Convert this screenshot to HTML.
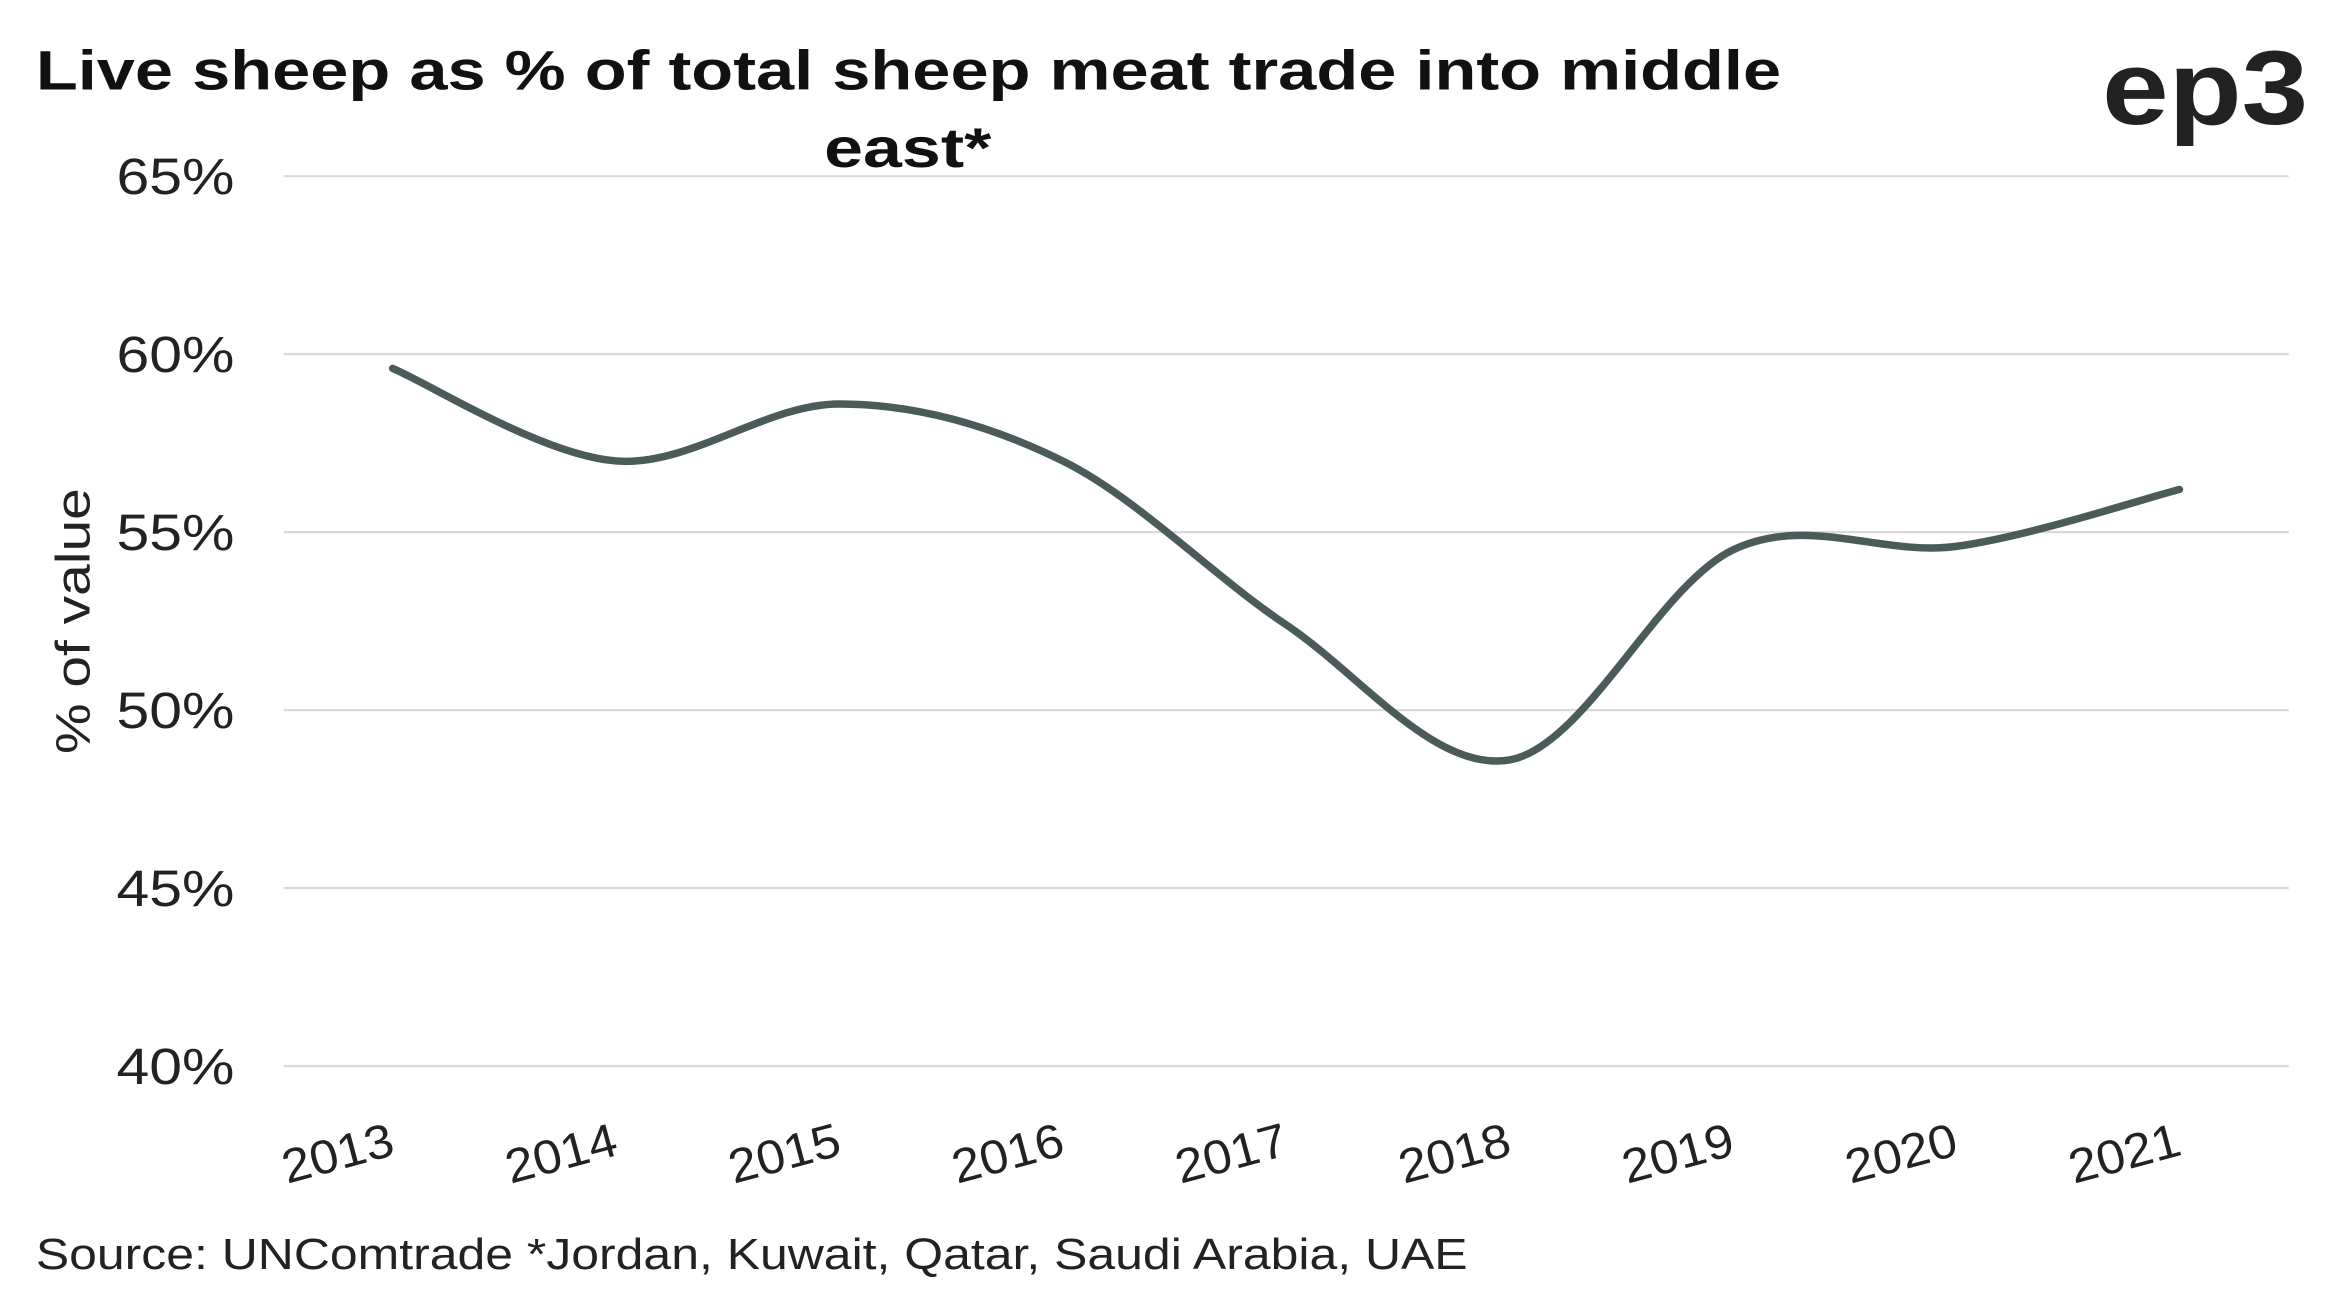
<!DOCTYPE html>
<html><head><meta charset="utf-8"><style>
html,body{margin:0;padding:0;background:#fff;}
svg{display:block;font-family:"Liberation Sans",sans-serif;}
</style></head><body>
<svg id="chart" width="2341" height="1302" viewBox="0 0 1568 872" preserveAspectRatio="none" xmlns="http://www.w3.org/2000/svg">
<rect width="1568" height="872" fill="#fff"/>
<text x="24" y="60" font-size="37" font-weight="bold" fill="#111" textLength="1169" lengthAdjust="spacingAndGlyphs">Live sheep as % of total sheep meat trade into middle</text>
<text x="552" y="112" font-size="37" font-weight="bold" fill="#111" textLength="112" lengthAdjust="spacingAndGlyphs">east*</text>
<text x="1408" y="83" font-size="70" font-weight="bold" fill="#222" textLength="138" lengthAdjust="spacingAndGlyphs">ep3</text>
<g id="grid"></g>
<g id="yticks"></g>
<g id="xticks"></g>
<path id="line" fill="none" stroke="#4b5b5a" stroke-width="5" stroke-linecap="round"/>
<text transform="translate(60,416) rotate(-90)" font-size="32" fill="#222" text-anchor="middle" textLength="178" lengthAdjust="spacingAndGlyphs">% of value</text>
<text x="24" y="850" font-size="29" fill="#222" textLength="959" lengthAdjust="spacingAndGlyphs">Source: UNComtrade *Jordan, Kuwait, Qatar, Saudi Arabia, UAE</text>
</svg>
<script>
const years=["2013","2014","2015","2016","2017","2018","2019","2020","2021"];
const values=[59.6,57.0,58.6,57.0,52.4,48.6,54.5,54.6,56.2];
const yTicks=[40,45,50,55,60,65];
const NS="http://www.w3.org/2000/svg";
const yMin=40,yMax=65,yTop=118,yBot=714;
const xFirst=263,xStep=149.6;
function y(v){return yBot-(v-yMin)/(yMax-yMin)*(yBot-yTop);}
function x(i){return xFirst+i*xStep;}
const grid=document.getElementById('grid'),yt=document.getElementById('yticks'),xt=document.getElementById('xticks');
yTicks.forEach(t=>{
 const l=document.createElementNS(NS,'line');
 
 
 l.setAttribute('x1',190);l.setAttribute('x2',1533);l.setAttribute('y1',y(t));l.setAttribute('y2',y(t));
 l.setAttribute('stroke','#d9d9d9');l.setAttribute('stroke-width','1.5');grid.appendChild(l);
 const tx=document.createElementNS(NS,'text');
 
 
 tx.setAttribute('x',78);tx.setAttribute('y',y(t)+12);
 tx.setAttribute('textLength','79');tx.setAttribute('lengthAdjust','spacingAndGlyphs');
 tx.setAttribute('font-size','34');tx.setAttribute('fill','#222');tx.textContent=t+'%';yt.appendChild(tx);
});
years.forEach((yr,i)=>{
 const tx=document.createElementNS(NS,'text');
 
 
 tx.setAttribute('transform','translate('+(x(i)-34)+',783) rotate(-15)');
 tx.setAttribute('text-anchor','middle');tx.setAttribute('font-size','32');tx.setAttribute('fill','#222');
 tx.setAttribute('textLength','76');tx.setAttribute('lengthAdjust','spacingAndGlyphs');
 tx.textContent=yr;xt.appendChild(tx);
});
const pts=values.map((v,i)=>[x(i),y(v)]);
let d='M'+pts[0][0]+','+pts[0][1];
for(let i=0;i<pts.length-1;i++){
 const p0=pts[Math.max(0,i-1)],p1=pts[i],p2=pts[i+1],p3=pts[Math.min(pts.length-1,i+2)];
 const t=6;
 const c1=[p1[0]+(p2[0]-p0[0])/t,p1[1]+(p2[1]-p0[1])/t];
 const c2=[p2[0]-(p3[0]-p1[0])/t,p2[1]-(p3[1]-p1[1])/t];
 d+=' C'+c1[0]+','+c1[1]+' '+c2[0]+','+c2[1]+' '+p2[0]+','+p2[1];
}
document.getElementById('line').setAttribute('d',d);
</script>
</body></html>
